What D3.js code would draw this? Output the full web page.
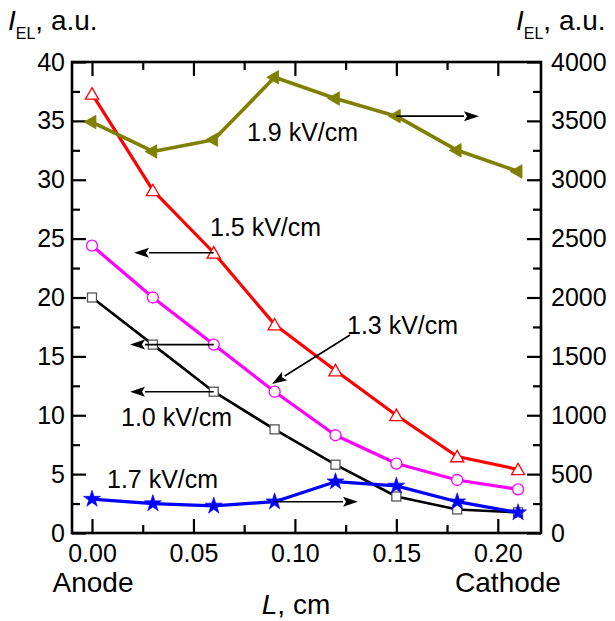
<!DOCTYPE html>
<html>
<head>
<meta charset="utf-8">
<script src="https://cdn.jsdelivr.net/npm/d3@7"></script>
<style>
  html, body { margin: 0; padding: 0; background: #fff; }
  svg { display: block; font-family: "Liberation Sans", Arial, sans-serif; }
</style>
</head>
<body>
<svg id="chart" width="615" height="621"></svg>
<script>
// ---------- data ----------
const positions = [0.00, 0.03, 0.06, 0.09, 0.12, 0.15, 0.18, 0.21];
const series10 = [20.0, 16.0, 12.0, 8.8, 5.8, 3.1, 2.0, 1.75];      // 1.0 kV/cm, left axis
const series13 = [24.4, 20.0, 16.0, 12.0, 8.3, 5.9, 4.5, 3.7];      // 1.3 kV/cm, left axis
const series15 = [37.3, 29.1, 23.8, 17.7, 13.8, 10.0, 6.5, 5.4];    // 1.5 kV/cm, left axis
const series17 = [288, 250, 230, 266, 436, 400, 266, 173];          // 1.7 kV/cm, right axis
const series19 = [3490, 3240, 3340, 3870, 3690, 3540, 3250, 3070];  // 1.9 kV/cm, right axis
const xMajorTicks = [0.00, 0.05, 0.10, 0.15, 0.20];
const xMinorTicks = [0.025, 0.075, 0.125, 0.175];
const yLeftMajor = [0, 5, 10, 15, 20, 25, 30, 35, 40];
const yLeftMinor = [2.5, 7.5, 12.5, 17.5, 22.5, 27.5, 32.5, 37.5];
const yRightMajor = [0, 500, 1000, 1500, 2000, 2500, 3000, 3500, 4000];
const yRightMinor = [250, 750, 1250, 1750, 2250, 2750, 3250, 3750];

// ---------- layout ----------
const mLeft = 72, mRight = 541, mTop = 62, mBottom = 533;
const svg = d3.select("#chart");

const x = d3.scaleLinear().domain([-0.00986, 0.2213]).range([mLeft, mRight]);
const yL = d3.scaleLinear().domain([0, 40]).range([mBottom, mTop]);
const yR = d3.scaleLinear().domain([0, 4000]).range([mBottom, mTop]);

const FS = 25, FB = 28;
const MAJ = 14, MIN = 8;

function styleAxis(g) {
  g.select(".domain").remove();
  g.selectAll(".tick line").attr("stroke", "#000").attr("stroke-width", 2.2);
  g.selectAll(".tick text").attr("fill", "#000").attr("font-size", FS)
    .attr("font-family", "Liberation Sans, Arial, sans-serif");
}

// bottom
svg.append("g").attr("transform", `translate(0,${mBottom})`)
  .call(d3.axisBottom(x).tickValues(xMajorTicks).tickSize(-MAJ).tickPadding(11).tickFormat(d3.format(".2f")))
  .call(styleAxis);
svg.append("g").attr("transform", `translate(0,${mBottom})`)
  .call(d3.axisBottom(x).tickValues(xMinorTicks).tickSize(-MIN).tickFormat(""))
  .call(styleAxis);
// top
svg.append("g").attr("transform", `translate(0,${mTop})`)
  .call(d3.axisTop(x).tickValues(xMajorTicks).tickSize(-MAJ).tickFormat(""))
  .call(styleAxis);
svg.append("g").attr("transform", `translate(0,${mTop})`)
  .call(d3.axisTop(x).tickValues(xMinorTicks).tickSize(-MIN).tickFormat(""))
  .call(styleAxis);
// left
svg.append("g").attr("transform", `translate(${mLeft},0)`)
  .call(d3.axisLeft(yL).tickValues(yLeftMajor).tickSize(-MAJ).tickPadding(7).tickFormat(d3.format("d")))
  .call(styleAxis);
svg.append("g").attr("transform", `translate(${mLeft},0)`)
  .call(d3.axisLeft(yL).tickValues(yLeftMinor).tickSize(-MIN).tickFormat(""))
  .call(styleAxis);
// right
svg.append("g").attr("transform", `translate(${mRight},0)`)
  .call(d3.axisRight(yR).tickValues(yRightMajor).tickSize(-MAJ).tickPadding(10).tickFormat(d3.format("d")))
  .call(styleAxis);
svg.append("g").attr("transform", `translate(${mRight},0)`)
  .call(d3.axisRight(yR).tickValues(yRightMinor).tickSize(-MIN).tickFormat(""))
  .call(styleAxis);

// frame
svg.append("rect").attr("x", mLeft).attr("y", mTop).attr("width", mRight - mLeft).attr("height", mBottom - mTop)
  .attr("fill", "none").attr("stroke", "#000").attr("stroke-width", 2.6);

// ---------- series ----------
function drawLine(vals, yS, color, w) {
  const line = d3.line().x((d, i) => x(positions[i])).y(d => yS(d));
  svg.append("path").datum(vals).attr("d", line).attr("fill", "none")
    .attr("stroke", color).attr("stroke-width", w).attr("stroke-linejoin", "round");
}
drawLine(series10, yL, "#000", 2.6);
drawLine(series13, yL, "#ff00ff", 3.2);
drawLine(series15, yL, "#ff0000", 3.2);
drawLine(series17, yR, "#0000ff", 3.2);
drawLine(series19, yR, "#808000", 3.6);

// markers
svg.append("g").selectAll("rect").data(series10).join("rect")
  .attr("x", (d, i) => x(positions[i]) - 4.5).attr("y", d => yL(d) - 4.5)
  .attr("width", 9).attr("height", 9).attr("fill", "#fff").attr("stroke", "#555").attr("stroke-width", 1.3);
svg.append("g").selectAll("circle").data(series13).join("circle")
  .attr("cx", (d, i) => x(positions[i])).attr("cy", d => yL(d)).attr("r", 5.5)
  .attr("fill", "#fff").attr("stroke", "#ff00ff").attr("stroke-width", 1.3);
const tri = d3.symbol().type(d3.symbolTriangle).size(75);
svg.append("g").selectAll("path").data(series15).join("path")
  .attr("d", tri).attr("transform", (d, i) => `translate(${x(positions[i])},${yL(d) + 1.5})`)
  .attr("fill", "#fff").attr("stroke", "#ff0000").attr("stroke-width", 1.3);
const star = d3.symbol().type(d3.symbolStar).size(90);
svg.append("g").selectAll("path").data(series17).join("path")
  .attr("d", star).attr("transform", (d, i) => `translate(${x(positions[i])},${yR(d)})`)
  .attr("fill", "#0000ff").attr("stroke", "#0000ff").attr("stroke-width", 0.6);
const triL = d3.symbol().type(d3.symbolTriangle).size(80);
svg.append("g").selectAll("path").data(series19).join("path")
  .attr("d", triL).attr("transform", (d, i) => `translate(${x(positions[i])},${yR(d)}) rotate(-90)`)
  .attr("fill", "#808000").attr("stroke", "#808000").attr("stroke-width", 0.8);

// ---------- annotations ----------
function arrow(x1, y1, x2, y2) {
  const ang = Math.atan2(y2 - y1, x2 - x1);
  const hl = 15, hw = 5;
  const bx = x2 - hl * Math.cos(ang), by = y2 - hl * Math.sin(ang);
  svg.append("line").attr("x1", x1).attr("y1", y1).attr("x2", bx).attr("y2", by)
    .attr("stroke", "#000").attr("stroke-width", 1.6);
  const p1 = [bx + hw * Math.sin(ang), by - hw * Math.cos(ang)];
  const p2 = [bx - hw * Math.sin(ang), by + hw * Math.cos(ang)];
  svg.append("path").attr("d", `M${x2},${y2}L${p1[0]},${p1[1]}L${bx + 3 * Math.cos(ang)},${by + 3 * Math.sin(ang)}L${p2[0]},${p2[1]}Z`)
    .attr("fill", "#000");
}
arrow(x(0.15), yR(series19[5]), 479, yR(series19[5]));
arrow(x(0.06), yL(series15[2]), 134, yL(series15[2]));
arrow(x(0.06), yL(series13[2]), 130, yL(series13[2]));
arrow(350, 335, 272, 384);
arrow(x(0.06), yL(series10[2]), 130, yL(series10[2]));
arrow(x(0.09), yR(series17[3]), 358, yR(series17[3]));

function label(txt, tx, ty, anchor, fs) {
  svg.append("text").attr("x", tx).attr("y", ty).attr("font-size", fs || FS)
    .attr("text-anchor", anchor || "start").attr("fill", "#000").text(txt);
}
label("1.9 kV/cm", 247, 141);
label("1.5 kV/cm", 210, 236);
label("1.3 kV/cm", 347, 334);
label("1.0 kV/cm", 121, 426);
label("1.7 kV/cm", 107, 488);
label("Anode", 93, 592, "middle", FB);
label("Cathode", 508, 592, "middle", FB);

const xt = svg.append("text").attr("x", 296).attr("y", 614).attr("font-size", FB).attr("text-anchor", "middle");
xt.append("tspan").attr("font-style", "italic").text("L");
xt.append("tspan").text(", cm");

function yTitle(tx) {
  const t = svg.append("text").attr("x", tx).attr("y", 30).attr("font-size", FB);
  t.append("tspan").attr("font-style", "italic").text("I");
  t.append("tspan").attr("font-size", 16).attr("dy", 9).text("EL");
  t.append("tspan").attr("dy", -9).text(", a.u.");
}
yTitle(8);
yTitle(516);
</script>
</body>
</html>
